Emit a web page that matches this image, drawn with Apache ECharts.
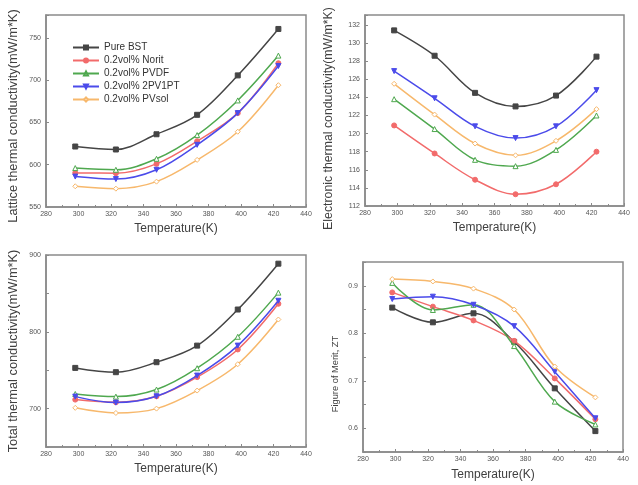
<!DOCTYPE html>
<html>
<head>
<meta charset="utf-8">
<script src="https://cdn.jsdelivr.net/npm/echarts@6/dist/echarts.min.js"></script>
<style>html,body{margin:0;padding:0;background:#fff}#c{width:638px;height:485px}</style>
</head>
<body>
<div id="c"></div>
<script>
var temps = [298, 323, 348, 373, 398, 423];
var seriesNames = ['Pure BST', '0.2vol% Norit', '0.2vol% PVDF', '0.2vol% 2PV1PT', '0.2vol% PVsol'];

// Lattice thermal conductivity (mW/m*K)
var latticePure  = [621.5, 618, 636, 659, 705.6, 760.5];
var latticeNorit = [590.3, 590, 601, 627.8, 661, 720];
var latticePVDF  = [596, 594, 607, 635, 676, 729];
var latticePV1PT = [586, 583, 594, 623.5, 661, 716.7];
var latticePVsol = [574.5, 571.7, 580, 605.7, 639, 694];

// Electronic thermal conductivity (mW/m*K)
var elecPure  = [131.4, 128.6, 124.5, 123.0, 124.2, 128.5];
var elecNorit = [120.9, 117.8, 114.9, 113.3, 114.4, 118.0];
var elecPVDF  = [123.8, 120.5, 117.1, 116.4, 118.2, 122.0];
var elecPV1PT = [126.9, 123.9, 120.8, 119.5, 120.8, 124.8];
var elecPVsol = [125.5, 122.1, 118.9, 117.6, 119.2, 122.7];

// Total thermal conductivity (mW/m*K)
var totalPure  = [753, 747.4, 760.4, 782, 829, 888.7];
var totalNorit = [711.7, 708.3, 716, 741, 777, 836.5];
var totalPVDF  = [719, 715.6, 724.8, 752.6, 793.5, 851];
var totalPV1PT = [715.6, 707.8, 716, 743, 782, 840.4];
var totalPVsol = [701, 694.3, 700, 723.5, 757.8, 816];

// Figure of merit ZT
var ztPure  = [0.854, 0.823, 0.842, 0.782, 0.684, 0.594];
var ztNorit = [0.886, 0.856, 0.827, 0.784, 0.705, 0.619];
var ztPVDF  = [0.906, 0.849, 0.860, 0.773, 0.656, 0.608];
var ztPV1PT = [0.872, 0.877, 0.860, 0.815, 0.719, 0.621];
var ztPVsol = [0.914, 0.909, 0.894, 0.850, 0.730, 0.665];

var yTitles = ['Lattice thermal conductivity(mW/m*K)', 'Electronic thermal conductivity(mW/m*K)',
               'Total thermal conductivity(mW/m*K)', 'Figure of Merit, ZT'];

var colors = ['#454545', '#f26b6b', '#4fa84f', '#4b4bea', '#f7b86c'];
var symbols = ['rect', 'circle', 'triangle', 'triangle', 'diamond'];
var symbolRot = [0, 0, 0, 180, 0];
var hollow = [false, false, true, false, true];

var panels = [
  [latticePure, latticeNorit, latticePVDF, latticePV1PT, latticePVsol],
  [elecPure, elecNorit, elecPVDF, elecPV1PT, elecPVsol],
  [totalPure, totalNorit, totalPVDF, totalPV1PT, totalPVsol],
  [ztPure, ztNorit, ztPVDF, ztPV1PT, ztPVsol]
];

var grids = [
  {left: 46, top: 15, width: 260, height: 192},
  {left: 365, top: 15, width: 259, height: 191},
  {left: 46, top: 255, width: 260, height: 192},
  {left: 363, top: 262, width: 260, height: 190}
];
grids.forEach(function (g) { g.show = true; g.borderColor = '#8a8a8a'; g.borderWidth = 1.5; g.backgroundColor = 'transparent'; });

var yCfg = [
  {min: 550, max: 777, interval: 50, gap: 26, fs: 12.8, pad: [0, 10, 0, 0], fmt: function (v) { return v % 50 === 0 && v <= 750 ? String(v) : ''; }},
  {min: 112, max: 133.1, interval: 2, gap: 30, fs: 12.3, pad: [0, 16, 0, 0], fmt: function (v) { return Math.abs(v - Math.round(v)) < 1e-6 && v <= 132 ? String(Math.round(v)) : ''; }},
  {min: 650, max: 900, interval: 50, gap: 26, fs: 12.8, pad: [0, 0, 0, 0], fmt: function (v) { return v % 100 === 0 ? String(v) : ''; }},
  {min: 0.55, max: 0.95, interval: 0.05, gap: 23, fs: 9.3, pad: [0, 34, 0, 0], fmt: function (v) { var r = Math.round(v * 100); return (r % 10 === 0 && r >= 60 && r <= 90) ? (r / 100).toFixed(1) : ''; }}
];
var xGaps = [16, 16, 16, 17];

var axisLineStyle = {lineStyle: {color: '#8a8a8a', width: 1.5}};
var xAxes = [], yAxes = [], series = [];
for (var p = 0; p < 4; p++) {
  xAxes.push({
    type: 'value', gridIndex: p, min: 280, max: 440, interval: 20,
    name: 'Temperature(K)', nameLocation: 'middle', nameGap: xGaps[p],
    nameTextStyle: {fontFamily: 'Liberation Sans', fontSize: 12, color: '#404040'},
    axisLine: axisLineStyle,
    axisTick: {show: true, inside: true, length: 3, lineStyle: {color: '#8a8a8a'}},
    minorTick: {show: true, splitNumber: 2, length: 2, lineStyle: {color: '#8a8a8a'}},
    splitLine: {show: false},
    axisLabel: {fontFamily: 'Liberation Sans', fontSize: 7, color: '#555', margin: 4}
  });
  yAxes.push({
    type: 'value', gridIndex: p, min: yCfg[p].min, max: yCfg[p].max, interval: yCfg[p].interval,
    name: yTitles[p], nameLocation: 'middle', nameGap: yCfg[p].gap,
    nameTextStyle: {fontFamily: 'Liberation Sans', fontSize: yCfg[p].fs, color: '#404040', padding: yCfg[p].pad},
    axisLine: axisLineStyle,
    axisTick: {show: true, inside: true, length: 3, lineStyle: {color: '#8a8a8a'}},
    splitLine: {show: false},
    axisLabel: {fontFamily: 'Liberation Sans', fontSize: 7, color: '#555', margin: 5, formatter: yCfg[p].fmt, showMaxLabel: true}
  });
  for (var s = 0; s < 5; s++) {
    var d = panels[p][s].map(function (v, i) { return [temps[i], v]; });
    series.push({
      type: 'line', name: seriesNames[s], xAxisIndex: p, yAxisIndex: p,
      data: d, smooth: 0.35, symbol: symbols[s], symbolRotate: symbolRot[s], symbolSize: 5,
      showAllSymbol: true,
      lineStyle: {color: colors[s], width: 1.5},
      itemStyle: {color: hollow[s] ? '#fff' : colors[s], borderColor: colors[s], borderWidth: 1},
      emphasis: {disabled: true}, animation: false, z: 2 + s
    });
  }
}

var chart = echarts.init(document.getElementById('c'), null, {renderer: 'canvas'});
chart.setOption({
  backgroundColor: '#fff',
  animation: false,
  grid: grids,
  xAxis: xAxes,
  yAxis: yAxes,
  legend: {
    data: seriesNames, orient: 'vertical', left: 67, top: 37, itemGap: 2,
    itemWidth: 26, itemHeight: 5,
    textStyle: {fontFamily: 'Liberation Sans', fontSize: 10, color: '#333', lineHeight: 11},
    selectedMode: false
  },
  series: series
});
</script>
</body>
</html>
